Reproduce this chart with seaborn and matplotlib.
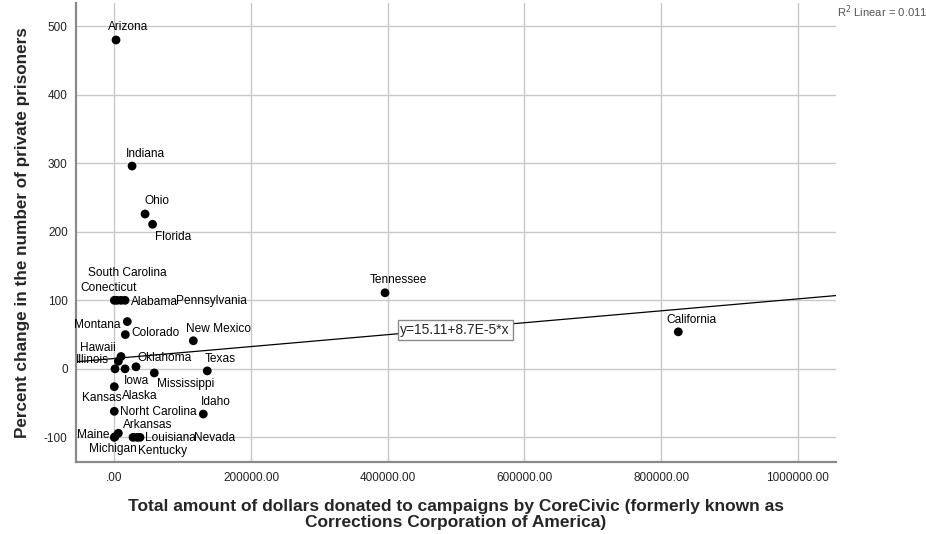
import matplotlib
matplotlib.use("Agg")
import matplotlib.pyplot as plt
import seaborn as sns
import pandas as pd

# Campaign donations by CoreCivic and change in private prisoners, per state
states = ["Arizona", "Indiana", "Ohio", "Florida", "Tennessee", "California",
          "South Carolina", "Conecticut", "Alabama", "Pennsylvania", "Montana",
          "Colorado", "New Mexico", "Hawaii", "Illinois", "Oklahoma", "Texas",
          "Iowa", "Alaska", "Mississippi", "Kansas", "Norht Carolina", "Idaho",
          "Arkansas", "Maine", "Michigan", "Louisiana", "Nevada", "Kentucky"]
donations = [2500, 26000, 45000, 56000, 396000, 825000,
             0, 4000, 9800, 15700, 19000,
             16100, 115600, 9800, 5900, 31700, 136000,
             15700, 1000, 58500, 0, 0, 130200,
             5900, 1000, 0, 37600, 33200, 27400]
pct_change = [480, 296, 226, 211, 111, 54,
              100, 100, 100, 100, 69,
              50, 41, 18, 11, 3, -3,
              0, 0, -6, -26, -62, -66,
              -94, -99, -100, -100, -100, -100]

# Fitted linear model shown on the chart
intercept = 15.11
slope = 8.7e-5
r_squared_text = "R$^2$ Linear = 0.011"
equation_text = "y=15.11+8.7E-5*x"

x_ticks = [0, 200000, 400000, 600000, 800000, 1000000]
x_tick_labels = [".00", "200000.00", "400000.00", "600000.00", "800000.00", "1000000.00"]
y_ticks = [-100, 0, 100, 200, 300, 400, 500]

# Label placement: (dx, dy in pixels, horizontal alignment)
label_pos = {
    "Arizona": (12, 13, "center"), "Indiana": (13, 12, "center"),
    "Ohio": (12, 13, "center"), "Florida": (21, -13, "center"),
    "Tennessee": (13, 13, "center"), "California": (13, 12, "center"),
    "South Carolina": (13, 27, "center"), "Conecticut": (-8, 12, "center"),
    "Alabama": (10, -2, "left"), "Pennsylvania": (51, -1, "left"),
    "Montana": (-7, -3, "right"), "Colorado": (6, 2, "left"),
    "New Mexico": (25, 12, "center"), "Hawaii": (-5, 9, "right"),
    "Illinois": (-9, 1, "right"), "Oklahoma": (2, 9, "left"),
    "Texas": (13, 12, "center"), "Iowa": (11, -12, "center"),
    "Alaska": (7, -27, "left"), "Mississippi": (3, -11, "left"),
    "Kansas": (7, -11, "right"), "Norht Carolina": (6, -1, "left"),
    "Idaho": (12, 12, "center"), "Arkansas": (5, 8, "left"),
    "Maine": (-5, 2, "right"), "Michigan": (-1, -12, "center"),
    "Louisiana": (5, -1, "left"), "Nevada": (57, -1, "left"),
    "Kentucky": (30, -14, "center"),
}

sns.set_style("white")
plt.rcParams["font.family"] = ["Liberation Sans", "DejaVu Sans"]

df = pd.DataFrame({"state": states, "donations": donations, "change": pct_change})

fig = plt.figure(figsize=(9.26, 5.34), dpi=100)
ax = fig.add_axes([0.0821, 0.1348, 0.8202, 0.8596])

sns.scatterplot(data=df, x="donations", y="change", color="black", s=40,
                edgecolor="none", ax=ax, zorder=3)

ax.set_xlim(-56000, 1055000)
ax.set_ylim(-136, 534)

ax.set_xticks(x_ticks)
ax.set_xticklabels(x_tick_labels)
ax.set_yticks(y_ticks)
ax.set_yticklabels([str(v) for v in y_ticks])
ax.tick_params(axis="both", length=0, labelsize=8.5, colors="#222222")
ax.tick_params(axis="x", pad=7)
ax.tick_params(axis="y", pad=6)

ax.grid(True, color="#c8c8c8", linewidth=1)
ax.set_axisbelow(True)
for side in ("top", "right"):
    ax.spines[side].set_visible(False)
for side in ("left", "bottom"):
    ax.spines[side].set_color("#8a8a8a")
    ax.spines[side].set_linewidth(1.6)

# Fit line from the reported coefficients
ax.axline((0, intercept), slope=slope, color="black", linewidth=0.9, zorder=2)

for name, xv, yv in zip(states, donations, pct_change):
    dx, dy, ha = label_pos[name]
    ax.annotate(name, (xv, yv), xytext=(dx, dy), textcoords="offset pixels",
                ha=ha, va="center", fontsize=8.6, color="black", zorder=4)

ax.annotate(equation_text, (498500, 57), ha="center", va="center", fontsize=10,
            bbox=dict(boxstyle="square,pad=0.2", facecolor="white",
                      edgecolor="#8a8a8a", linewidth=1), zorder=5)

ax.set_xlabel("Total amount of dollars donated to campaigns by CoreCivic (formerly known as\n"
              "Corrections Corporation of America)", fontsize=12.5, fontweight="bold",
              labelpad=11, linespacing=1.1)
ax.set_ylabel("Percent change in the number of private prisoners", fontsize=12.3,
              fontweight="bold", labelpad=10)

fig.text(837 / 926, 1 - 12 / 534, r_squared_text, fontsize=8.1, color="#555555",
         ha="left", va="center")

fig.savefig("out.png", dpi=100)
